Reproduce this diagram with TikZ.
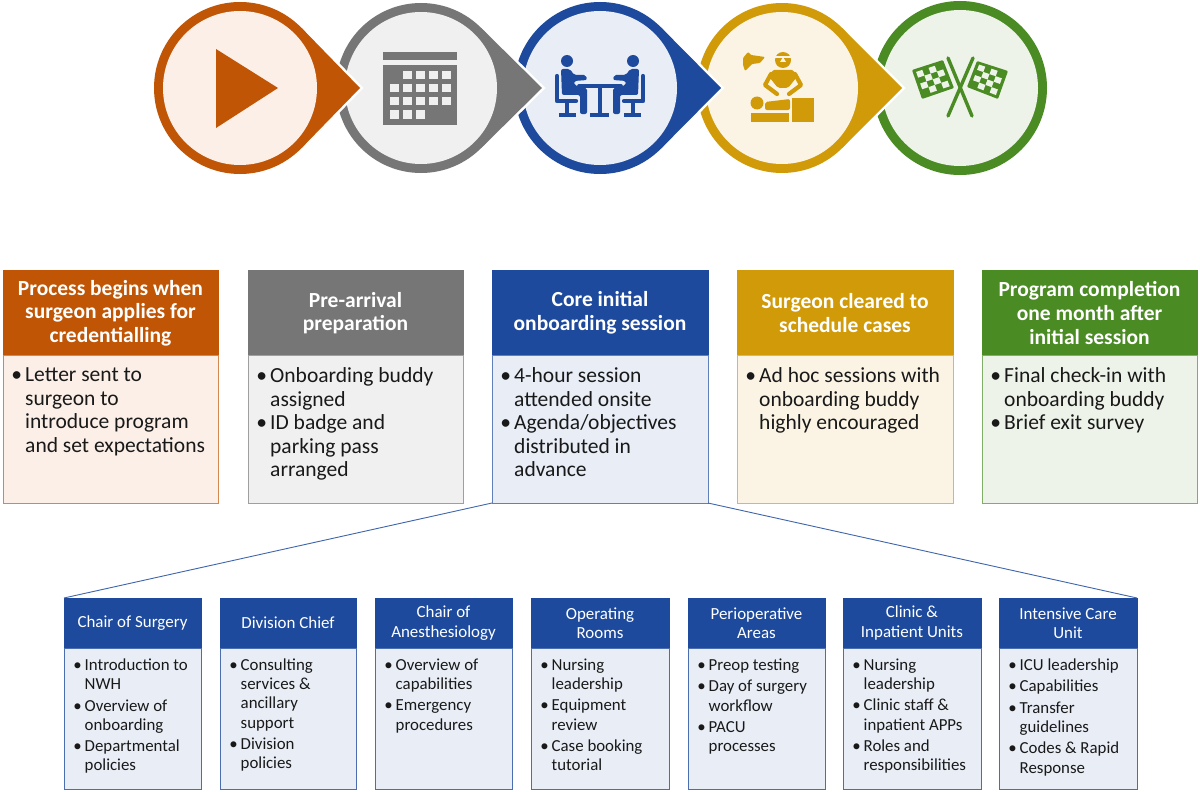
\documentclass[tikz,border=0pt]{standalone}
\usepackage{fontspec}
\setmainfont{Carlito}
\usetikzlibrary{calc}
\definecolor{cOr}{HTML}{C05505}\definecolor{lOr}{HTML}{FBEFE7}
\definecolor{cGr}{HTML}{767676}\definecolor{lGr}{HTML}{F0F0F0}
\definecolor{cBl}{HTML}{1D4A9C}\definecolor{lBl}{HTML}{E8EDF6}
\definecolor{cGo}{HTML}{D09A08}\definecolor{lGo}{HTML}{FBF4E5}
\definecolor{cGn}{HTML}{4B8B24}\definecolor{lGn}{HTML}{EDF3E8}
\tikzset{
 x=1bp,y=-1bp,
 boxpart/.style={rectangle,inner sep=0pt,outer sep=0pt,line width=0.9bp,anchor=north west},
 headbig/.style={text=white,align=center,font=\fontsize{21.6}{23.8}\selectfont\bfseries,inner sep=0pt},
 bodybig/.style={text=black!90,align=left,anchor=north west,font=\fontsize{21.6}{23.6}\selectfont,inner sep=0pt},
 headsmall/.style={text=white,align=center,font=\fontsize{17}{19.3}\selectfont,inner sep=0pt},
 bodysmall/.style={text=black!90,align=left,anchor=north west,font=\fontsize{16.9}{19.3}\selectfont,inner sep=0pt},
 conn/.style={draw=cBl!85!white,line width=0.9bp},
 limb/.style={line cap=round,line join=round,line width=4.2bp},
}
\newcommand{\bl}[1]{\llap{\textbullet\hspace{3bp}}#1}
% name, x1, x2, main, light, header, body
\newcommand{\bigbox}[7]{%
 \pgfmathsetmacro{\boxw}{#3-#2}
 \node[boxpart,draw=#4,fill=#4,minimum width=\boxw bp,minimum height=85bp] (#1h) at (#2,270) {};
 \node[boxpart,draw=#4!70!white,fill=#5,minimum width=\boxw bp,minimum height=148bp] (#1b) at (#2,355) {};
 \node[headbig] (#1ht) at ($(#1h.center)+(0,0.5)$) {#6};
 \node[bodybig] (#1t) at ($(#1b.north west)+(22,12.5)$) {#7};
}
\newcommand{\smallbox}[5]{%
 \pgfmathsetmacro{\boxw}{#3-#2}
 \node[boxpart,draw=cBl,fill=cBl,minimum width=\boxw bp,minimum height=50bp] (#1h) at (#2,598) {};
 \node[boxpart,draw=cBl!80!white,fill=lBl,minimum width=\boxw bp,minimum height=141bp] (#1b) at (#2,648) {};
 \node[headsmall] (#1ht) at (#1h.center) {#4};
 \node[bodysmall] (#1t) at ($(#1b.north west)+(20.5,10.5)$) {#5};
}
% cx, tipx, R, r, main, light
\newcommand{\teardrop}[6]{%
 \pgfmathsetmacro{\tdd}{#2-#1}
 \pgfmathsetmacro{\tdx}{#1+#3*#3/\tdd}
 \pgfmathsetmacro{\tdy}{#3*sqrt(1-(#3/\tdd)*(#3/\tdd))}
 \fill[white] (#1,88) circle[radius=#3+2.5];
 \draw[white,line width=5bp,miter limit=10,line join=miter] (\tdx,88-\tdy) -- (#2,88) -- (\tdx,88+\tdy);
 \fill[#5] (#1,88) circle[radius=#3];
 \fill[#5] (\tdx,88-\tdy) -- (#2,88) -- (\tdx,88+\tdy) -- cycle;
 \fill[#6] (#1,88) circle[radius=#4];
}
\newcommand{\person}{%
 \fill (567,61) circle[radius=6];
 \draw[limb] (557,76) -- (557,101) -- (576,101);
 \draw[line width=3.4bp] (567,101) -- (567,113);
 \draw[line width=3.6bp] (559,115) -- (576,115);
 \fill[rounded corners=2bp] (561,69) -- (570,69) -- (574,75) -- (586,75) -- (587,80) -- (574,81) -- (574,85) -- (587,88) -- (587,114) -- (580,114) -- (580,95) -- (562,95) -- cycle;
}
% flag: corners A B C D
\newcommand{\flag}[4]{%
 \fill[cGn,rounded corners=1bp] #1 -- #2 -- #3 -- #4 -- cycle;
 \foreach \i in {0,...,3}{\foreach \j in {0,...,3}{
  \pgfmathparse{int(mod(\i+\j,2))}
  \ifnum\pgfmathresult=0
   \pgfmathsetmacro{\fua}{0.1+\i*0.2}\pgfmathsetmacro{\fub}{\fua+0.2}
   \pgfmathsetmacro{\fva}{0.1+\j*0.2}\pgfmathsetmacro{\fvb}{\fva+0.2}
   \fill[lGn] ($($#1!\fua!#2$)!\fva!($#4!\fua!#3$)$) -- ($($#1!\fub!#2$)!\fva!($#4!\fub!#3$)$) -- ($($#1!\fub!#2$)!\fvb!($#4!\fub!#3$)$) -- ($($#1!\fua!#2$)!\fvb!($#4!\fua!#3$)$) -- cycle;
  \fi}}
}
\begin{document}
\begin{tikzpicture}
\useasboundingbox (0,0) rectangle (1200,792);
\fill[white] (0,0) rectangle (1200,792);
% top chain
\fill[cGn] (960,88) circle[radius=87]; \fill[lGn] (960,88) circle[radius=78];
\teardrop{782}{902}{85}{76}{cGo}{lGo}
\teardrop{600}{721}{86}{77}{cBl}{lBl}
\teardrop{421}{542}{85}{76}{cGr}{lGr}
\teardrop{240}{360}{86}{77}{cOr}{lOr}
% play
\fill[cOr] (216,49) -- (278,88) -- (216,128) -- cycle;
% calendar
\fill[cGr] (383,52) rectangle (457,60);
\fill[cGr] (383,65) rectangle (457,125);
\foreach \cc/\rr in {403/71,416/71,429/71,442/71,390/84,403/84,416/84,429/84,442/84,390/97,403/97,416/97,429/97,442/97,390/110,403/110,416/110}
 \fill[lGr] (\cc,\rr) rectangle ++(8.5,8.5);
% meeting
\begin{scope}[cBl,draw=cBl,fill=cBl]
 \person
 \begin{scope}[xshift=1200bp,x=-1bp]\person\end{scope}
 \draw[line width=3.6bp,line cap=round] (579,86) -- (621,86);
 \draw[line width=3.6bp] (600,86) -- (600,113);
 \draw[line width=3.6bp] (590,115) -- (609,115);
\end{scope}
% surgeon
\begin{scope}[cGo,draw=cGo,fill=cGo]
 \fill[rounded corners=1bp] (743,58) -- (748,52) -- (751,55) -- (765,57) -- (760,63) -- (752,64) -- (745,71) -- (743,65) -- cycle;
 \fill (783,60) circle[radius=8];
 \draw[lGo,line width=1.5bp] (775,57) -- (791,57);
 \fill[lGo] (783,57) -- (780,62) -- (786,62) -- cycle;
 \fill[rounded corners=2bp] (772,70) -- (794,70) -- (796,78) -- (788,88) -- (778,88) -- (770,78) -- cycle;
 \draw[limb] (771,74) -- (765,85) -- (777,94);
 \draw[limb] (795,74) -- (801,85) -- (789,94);
 \fill (757,103) circle[radius=6.5];
 \fill[rounded corners=2bp] (765,102) -- (790,99) -- (790,110) -- (765,110) -- cycle;
 \fill (751,113) rectangle (789,122);
 \fill (792,98) rectangle (814,122);
\end{scope}
% flags
\flag{(912,70)}{(943,60)}{(954,88)}{(922,99)}
\flag{(977,61)}{(1008,71)}{(998,99)}{(967,87)}
\draw[cGn,line width=3.4bp,line cap=round] (948,58) -- (972,116);
\draw[cGn,line width=3.4bp,line cap=round] (973,58) -- (948,116);
% top boxes
\bigbox{a}{3}{218}{cOr}{lOr}{Process begins when\\surgeon applies for\\credentialling}{\bl{Letter sent to}\\surgeon to\\introduce program\\and set expectations}
\bigbox{b}{248}{463}{cGr}{lGr}{Pre-arrival\\preparation}{\bl{Onboarding buddy}\\assigned\\\bl{ID badge and}\\parking pass\\arranged}
\bigbox{c}{492}{708}{cBl}{lBl}{Core initial\\onboarding session}{\bl{4-hour session}\\attended onsite\\\bl{Agenda/objectives}\\distributed in\\advance}
\bigbox{d}{737}{953}{cGo}{lGo}{Surgeon cleared to\\schedule cases}{\bl{Ad hoc sessions with}\\onboarding buddy\\highly encouraged}
\bigbox{e}{982}{1197}{cGn}{lGn}{Program completion\\one month after\\initial session}{\bl{Final check-in with}\\onboarding buddy\\\bl{Brief exit survey}}
% lower boxes
\smallbox{p}{64}{201}{Chair of Surgery}{\bl{Introduction to}\\NWH\\[2.2bp]\bl{Overview of}\\onboarding\\[2.2bp]\bl{Departmental}\\policies}
\smallbox{q}{220}{356}{Division Chief}{\bl{Consulting}\\services \&\\ancillary\\support\\[2.2bp]\bl{Division}\\policies}
\smallbox{r}{375}{512}{Chair of\\Anesthesiology}{\bl{Overview of}\\capabilities\\[2.2bp]\bl{Emergency}\\procedures}
\smallbox{s}{531}{669}{Operating\\Rooms}{\bl{Nursing}\\leadership\\[2.2bp]\bl{Equipment}\\review\\[2.2bp]\bl{Case booking}\\tutorial}
\smallbox{u}{688}{825}{Perioperative\\Areas}{\bl{Preop testing}\\[2.2bp]\bl{Day of surgery}\\workflow\\[2.2bp]\bl{PACU}\\processes}
\smallbox{v}{843}{981}{Clinic \&\\Inpatient Units}{\bl{Nursing}\\leadership\\[2.2bp]\bl{Clinic staff \&}\\inpatient APPs\\[2.2bp]\bl{Roles and}\\responsibilities}
\smallbox{w}{999}{1137}{Intensive Care\\Unit}{\bl{ICU leadership}\\[2.2bp]\bl{Capabilities}\\[2.2bp]\bl{Transfer}\\guidelines\\[2.2bp]\bl{Codes \& Rapid}\\Response}
% connectors
\draw[conn] (cb.south west) -- (ph.north west);
\draw[conn] (cb.south east) -- (wh.north east);
\end{tikzpicture}
\end{document}
